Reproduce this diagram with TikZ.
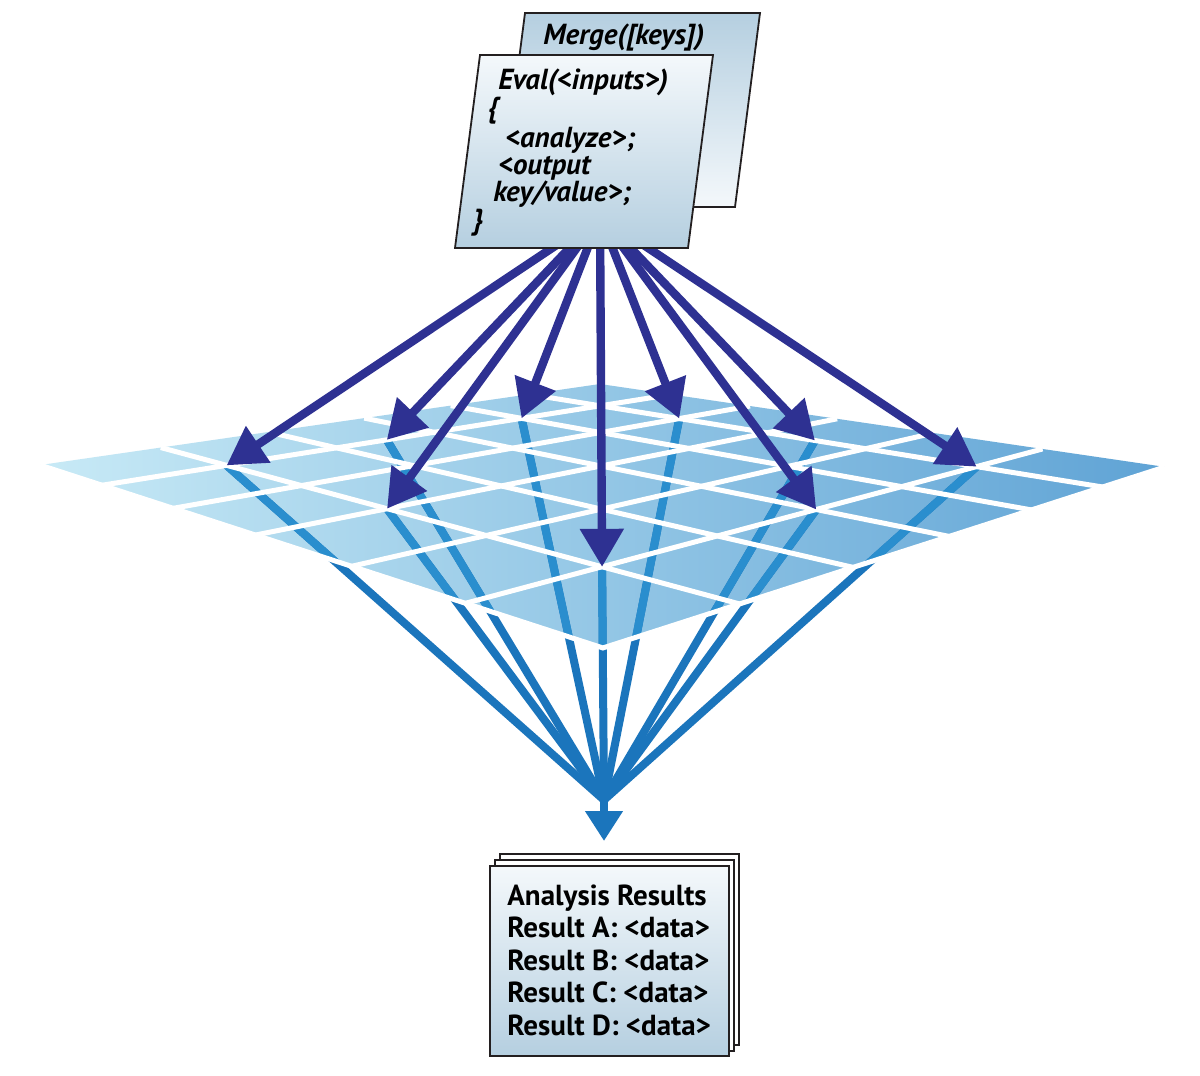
\documentclass[tikz,border=0pt]{standalone}
\usepackage{fontspec}
\setsansfont{PT Sans}
\usetikzlibrary{arrows.meta}
\definecolor{navy}{RGB}{46,49,146}
\definecolor{feedout}{RGB}{27,117,188}
\definecolor{feedin}{RGB}{42,142,206}
\definecolor{gridleft}{RGB}{200,234,246}
\definecolor{gridright}{RGB}{95,163,213}
\definecolor{boxlight}{RGB}{244,248,251}
\definecolor{boxdark}{RGB}{181,207,224}
\definecolor{framegray}{RGB}{35,31,32}
\tikzset{
  jobarrow/.style={navy,line width=4.2pt,-{Triangle[length=19pt,width=21pt]}},
  feedline/.style={feedout,line width=4pt},
  gridline/.style={white,line width=2.5pt},
  boxline/.style={framegray,line width=0.9pt},
  codetext/.style={font=\sffamily\bfseries\itshape\fontsize{14.5}{16}\selectfont,anchor=base west,inner sep=0pt},
  restext/.style={font=\sffamily\bfseries\fontsize{14.5}{16}\selectfont,anchor=base west,inner sep=0pt},
}
% grid vertex (a,b) of the perspective net
\newcommand{\gridcoord}[3]{%
  \pgfmathsetmacro{\gden}{1-0.04545*#2-0.04613*#3}%
  \pgfmathsetmacro{\gx}{(-95.15*#2+40.42*#3+600)/\gden}%
  \pgfmathsetmacro{\gy}{(-7.633*#2-7.717*#3+384)/\gden}%
  \coordinate (#1) at (\gx,\gy);}
\begin{document}
\begin{tikzpicture}[x=0.5pt,y=-0.5pt]
        \fill[white] (0,0) rectangle (1200,1076);
        \path[use as bounding box] (0,0) rectangle (1200,1076);
        \foreach \a in {0,...,6}{\foreach \b in {0,...,6}{\gridcoord{g-\a-\b}{\a}{\b}}}
        \foreach \a/\b [count=\i] in {5/1,3.5/1,5/3,2/1,5/5,1/2,3/5,1/3.5,1/5}{\gridcoord{tip\i}{\a}{\b}}
        \coordinate (src) at (600,216);
        \coordinate (hub) at (604,800);
        \coordinate (hubtip) at (604,841);
        \path[left color=gridleft,right color=gridright] (g-0-0) -- (g-6-0) -- (g-6-6) -- (g-0-6) -- cycle;
        \foreach \i in {1,...,9} \draw[feedline] (tip\i) -- (hub);
        \begin{scope}
          \clip (g-0-0) -- (g-6-0) -- (g-6-6) -- (g-0-6) -- cycle;
          \foreach \i in {1,...,9} \draw[feedline,feedin] (tip\i) -- (hub);
        \end{scope}
        \draw[feedout,line width=4pt,-{Triangle[length=15pt,width=18pt]}] (hub) -- (hubtip);
        \foreach \k in {1,...,5}{
          \draw[gridline] (g-\k-0) -- (g-\k-6);
          \draw[gridline] (g-0-\k) -- (g-6-\k);
        }
        \draw[gridline] (g-6-0) -- (g-6-6) -- (g-0-6);
        \foreach \i in {1,...,9} \draw[jobarrow] (src) -- (tip\i);
        \draw[boxline,top color=boxdark,bottom color=boxlight] (525,13) -- (760,13) -- (735,207) -- (500,207) -- cycle;
        \node[codetext] (merge) at (543,44) {Merge([keys])};
        \draw[boxline,top color=boxlight,bottom color=boxdark] (480,55) -- (713,55) -- (688,248) -- (455,248) -- cycle;
        \node[codetext] (eval1) at (498,89) {Eval(<inputs>)};
        \node[codetext] (eval2) at (487,117) {\{};
        \node[codetext] (eval3) at (505,147) {<analyze>;};
        \node[codetext] (eval4) at (498,174) {<output};
        \node[codetext] (eval5) at (493,201) {key/value>;};
        \node[codetext] (eval6) at (473,229) {\}};
        \draw[boxline,fill=white] (500,854) rectangle (739,1045);
        \draw[boxline,fill=white] (495,860) rectangle (734,1051);
        \draw[boxline,top color=boxlight,bottom color=boxdark] (490,866) rectangle (729,1056);
        \foreach \t [count=\i] in {Analysis Results,Result A: <data>,Result B: <data>,Result C: <data>,Result D: <data>}
          \node[restext] (res\i) at (507,{905+32.5*(\i-1)}) {\t};
\end{tikzpicture}
\end{document}
